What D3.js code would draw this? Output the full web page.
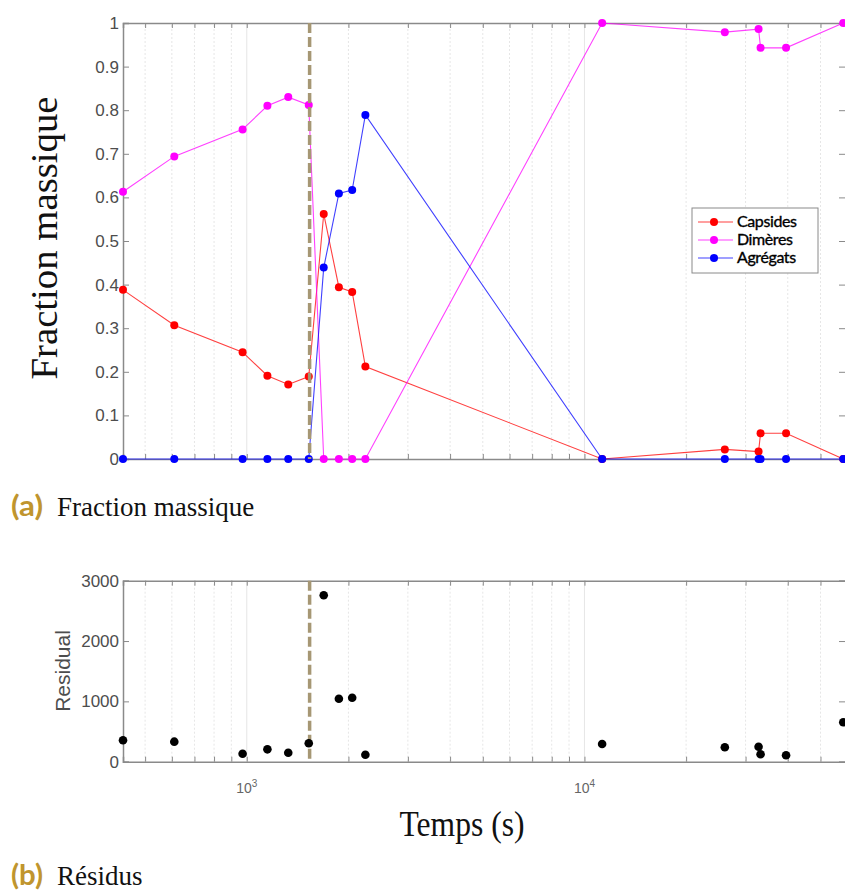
<!DOCTYPE html>
<html>
<head>
<meta charset="utf-8">
<script src="https://cdn.jsdelivr.net/npm/d3@7/dist/d3.min.js"></script>
<style>
  html, body { margin: 0; padding: 0; background: #fff; }
  svg { display: block; }
</style>
</head>
<body>
<svg id="chart" width="845" height="893"></svg>
<script>
// ---------------- DATA ----------------
const times    = [430, 610, 972, 1151, 1327, 1526, 1690, 1874, 2052, 2245, 11280, 26040, 32780, 33230, 39540, 58400];
const capsides = [0.388, 0.307, 0.245, 0.191, 0.171, 0.189, 0.562, 0.394, 0.383, 0.212, 0, 0.022, 0.017, 0.059, 0.059, 0];
const dimeres  = [0.613, 0.694, 0.756, 0.810, 0.830, 0.812, 0, 0, 0, 0, 1.0, 0.979, 0.986, 0.943, 0.943, 1.0];
const agregats = [0, 0, 0, 0, 0, 0, 0.439, 0.609, 0.617, 0.789, 0, 0, 0, 0, 0, 0];
const residual = [355, 332, 133, 205, 149, 305, 2758, 1044, 1061, 116, 293, 239, 249, 123, 106, 653];
const seriesNames = ["Capsides", "Dimères", "Agrégats"];
const seriesColors = ["#ff0000", "#ff00ff", "#0000ff"];
const fractionTicks = [0, 0.1, 0.2, 0.3, 0.4, 0.5, 0.6, 0.7, 0.8, 0.9, 1];
const residualTicks = [0, 1000, 2000, 3000];
const majorXTicks = [1000, 10000];
const minorXTicks = [500, 600, 700, 800, 900, 2000, 3000, 4000, 5000, 6000, 7000, 8000, 9000, 20000, 30000, 40000, 50000];
const switchTime = 1535;
const xDomain = [430, 59500];

// ---------------- LAYOUT ----------------
const svg = d3.select("#chart");
const left = 123, right = 846;
const x = d3.scaleLog().domain(xDomain).range([left, right]);
const yTop = d3.scaleLinear().domain([0, 1]).range([459, 23]);
const yBot = d3.scaleLinear().domain([0, 3000]).range([761.7, 580.7]);

const axisColor = "#8a8a8a";
const labelColor = "#4d4d4d";
const gridColor = "#e6e6e6";

function panel(y, yTicks, fmt) {
  const g = svg.append("g");
  const [y0, y1] = y.range();
  g.selectAll(".gmin").data(minorXTicks).join("line")
    .attr("x1", d => x(d)).attr("x2", d => x(d)).attr("y1", y0).attr("y2", y1)
    .attr("stroke", gridColor).attr("stroke-width", 1).attr("stroke-dasharray", "2,2");
  g.selectAll(".gmaj").data(majorXTicks).join("line")
    .attr("x1", d => x(d)).attr("x2", d => x(d)).attr("y1", y0).attr("y2", y1)
    .attr("stroke", gridColor).attr("stroke-width", 1);
  const bAxis = d3.axisBottom(x).tickValues(majorXTicks.concat(minorXTicks)).tickSize(-5).tickFormat("");
  g.append("g").attr("transform", `translate(0,${y0})`).call(bAxis)
    .call(s => { s.select(".domain").attr("stroke", axisColor).attr("stroke-width", 1.5); s.selectAll("line").attr("stroke", axisColor); });
  const tAxis = d3.axisTop(x).tickValues(majorXTicks.concat(minorXTicks)).tickSize(-5).tickFormat("");
  g.append("g").attr("transform", `translate(0,${y1})`).call(tAxis)
    .call(s => { s.select(".domain").attr("stroke", axisColor).attr("stroke-width", 1.5); s.selectAll("line").attr("stroke", axisColor); });
  const lAxis = d3.axisLeft(y).tickValues(yTicks).tickSize(-6).tickPadding(10).tickFormat(fmt);
  g.append("g").attr("transform", `translate(${left},0)`).call(lAxis)
    .call(s => {
      s.select(".domain").attr("stroke", axisColor).attr("stroke-width", 1.5);
      s.selectAll("line").attr("stroke", axisColor);
      s.selectAll("text").attr("fill", labelColor).attr("font-family", "Liberation Sans, Arial, sans-serif").attr("font-size", 17).attr("x", -4);
    });
  const rAxis = d3.axisRight(y).tickValues(yTicks).tickSize(-7).tickFormat("");
  g.append("g").attr("transform", `translate(${right},0)`).call(rAxis)
    .call(s => { s.select(".domain").attr("stroke", axisColor).attr("stroke-width", 1.5); s.selectAll("line").attr("stroke", axisColor); });
  return g;
}

// ---------------- TOP PANEL ----------------
panel(yTop, fractionTicks, d => d === 0 ? "0" : d === 1 ? "1" : d3.format(".1f")(d));

const seriesData = [capsides, dimeres, agregats];
const lineGen = d3.line().x(d => x(d.t)).y(d => yTop(d.v));
seriesData.forEach((vals, i) => {
  const pts = times.map((t, k) => ({ t, v: vals[k] }));
  const g = svg.append("g");
  g.append("path").datum(pts).attr("d", lineGen).attr("fill", "none")
    .attr("stroke", seriesColors[i]).attr("stroke-width", 1.1).attr("stroke-opacity", 0.75);
  g.selectAll("circle").data(pts).join("circle")
    .attr("cx", d => x(d.t)).attr("cy", d => yTop(d.v)).attr("r", 4)
    .attr("fill", seriesColors[i]);
});

svg.append("line")
  .attr("x1", x(switchTime)).attr("x2", x(switchTime))
  .attr("y1", yTop(1)).attr("y2", yTop(0))
  .attr("stroke", "#a69774").attr("stroke-width", 3.5).attr("stroke-dasharray", "10,4");

// legend
const lg = svg.append("g").attr("transform", "translate(692,208)");
lg.append("rect").attr("width", 126).attr("height", 65).attr("fill", "#fff")
  .attr("stroke", "#8a8a8a").attr("stroke-width", 1);
seriesNames.forEach((name, i) => {
  const yy = 14 + i * 18;
  lg.append("line").attr("x1", 6).attr("x2", 41).attr("y1", yy).attr("y2", yy)
    .attr("stroke", seriesColors[i]).attr("stroke-width", 1.1).attr("stroke-opacity", 0.75);
  lg.append("circle").attr("cx", 22).attr("cy", yy).attr("r", 4).attr("fill", seriesColors[i]);
  lg.append("text").attr("x", 45).attr("y", yy + 5).text(name)
    .attr("font-family", "Lato, sans-serif").attr("font-size", 16).attr("fill", "#000")
    .attr("stroke", "#000").attr("stroke-width", 0.35)
    .attr("letter-spacing", -0.4);
});

svg.append("text").attr("transform", "translate(57,238) rotate(-90)")
  .attr("text-anchor", "middle").attr("font-family", "Liberation Serif, Times New Roman, serif")
  .attr("font-size", 37).attr("fill", "#111").attr("textLength", 283).attr("lengthAdjust", "spacingAndGlyphs")
  .text("Fraction massique");

// ---------------- BOTTOM PANEL ----------------
panel(yBot, residualTicks, d3.format("d"));

svg.append("line")
  .attr("x1", x(switchTime)).attr("x2", x(switchTime))
  .attr("y1", yBot(3000)).attr("y2", yBot(0))
  .attr("stroke", "#a69774").attr("stroke-width", 3.5).attr("stroke-dasharray", "10,4");

svg.append("g").selectAll("circle").data(times.map((t, k) => ({ t, v: residual[k] }))).join("circle")
  .attr("cx", d => x(d.t)).attr("cy", d => yBot(d.v)).attr("r", 4.3).attr("fill", "#000");

const xl = svg.append("g");
majorXTicks.forEach(t => {
  const txt = xl.append("text").attr("x", x(t)).attr("y", 793).attr("text-anchor", "middle")
    .attr("font-family", "Liberation Sans, Arial, sans-serif").attr("font-size", 14).attr("fill", "#666");
  txt.append("tspan").text("10");
  txt.append("tspan").attr("dy", -6).attr("font-size", 10).text(String(Math.round(Math.log10(t))));
});

svg.append("text").attr("transform", "translate(70,671) rotate(-90)")
  .attr("text-anchor", "middle").attr("font-family", "Liberation Sans, Arial, sans-serif")
  .attr("font-size", 21).attr("fill", labelColor).text("Residual");

svg.append("text").attr("x", 462).attr("y", 836).attr("text-anchor", "middle")
  .attr("font-family", "Liberation Serif, Times New Roman, serif").attr("font-size", 35).attr("fill", "#111")
  .attr("textLength", 125).attr("lengthAdjust", "spacingAndGlyphs").text("Temps (s)");

function caption(y, letter, text) {
  svg.append("text").attr("x", 11).attr("y", y).attr("font-family", "Lato, sans-serif")
    .attr("font-weight", "bold").attr("font-size", 28).attr("fill", "#c0952e")
    .attr("textLength", 32).attr("lengthAdjust", "spacingAndGlyphs").text(letter);
  svg.append("text").attr("x", 57).attr("y", y).attr("font-family", "Liberation Serif, Times New Roman, serif")
    .attr("font-size", 27).attr("fill", "#111").text(text);
}
caption(516, "(a)", "Fraction massique");
caption(885, "(b)", "Résidus");
</script>
</body>
</html>
